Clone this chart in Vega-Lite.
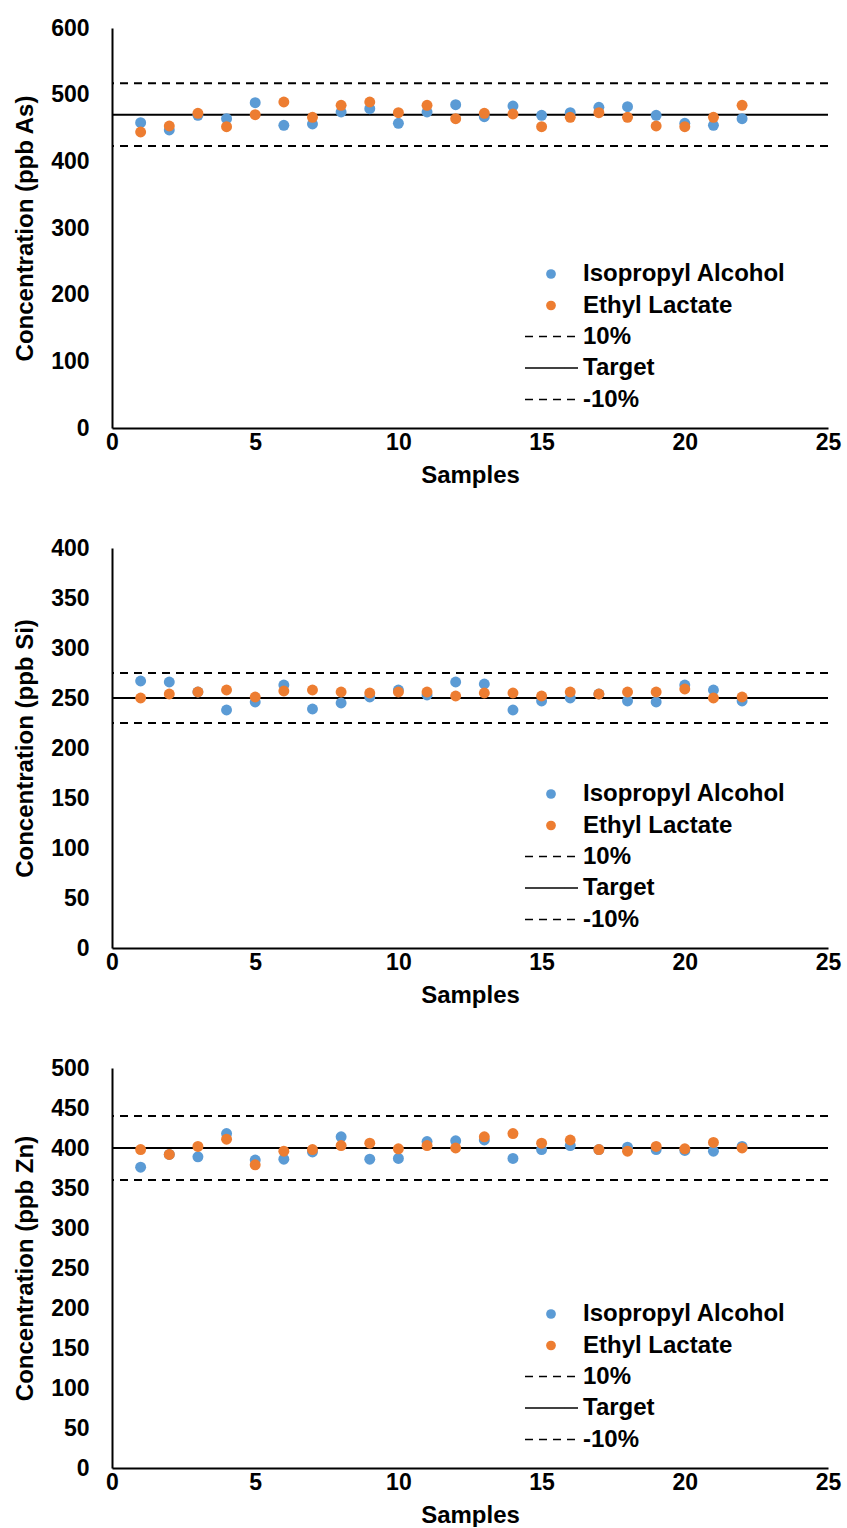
{
  "$schema": "https://vega.github.io/schema/vega-lite/v6.json",
  "background": "white",
  "padding": {"left": 13, "top": 17, "right": 5, "bottom": 0},
  "datasets": {
    "as": [
      {"sample": 1, "solvent": "Isopropyl Alcohol", "value": 458},
      {"sample": 2, "solvent": "Isopropyl Alcohol", "value": 447},
      {"sample": 3, "solvent": "Isopropyl Alcohol", "value": 469},
      {"sample": 4, "solvent": "Isopropyl Alcohol", "value": 464},
      {"sample": 5, "solvent": "Isopropyl Alcohol", "value": 488},
      {"sample": 6, "solvent": "Isopropyl Alcohol", "value": 454},
      {"sample": 7, "solvent": "Isopropyl Alcohol", "value": 456},
      {"sample": 8, "solvent": "Isopropyl Alcohol", "value": 474},
      {"sample": 9, "solvent": "Isopropyl Alcohol", "value": 479},
      {"sample": 10, "solvent": "Isopropyl Alcohol", "value": 457},
      {"sample": 11, "solvent": "Isopropyl Alcohol", "value": 474},
      {"sample": 12, "solvent": "Isopropyl Alcohol", "value": 485},
      {"sample": 13, "solvent": "Isopropyl Alcohol", "value": 467},
      {"sample": 14, "solvent": "Isopropyl Alcohol", "value": 483},
      {"sample": 15, "solvent": "Isopropyl Alcohol", "value": 469},
      {"sample": 16, "solvent": "Isopropyl Alcohol", "value": 473},
      {"sample": 17, "solvent": "Isopropyl Alcohol", "value": 481},
      {"sample": 18, "solvent": "Isopropyl Alcohol", "value": 482},
      {"sample": 19, "solvent": "Isopropyl Alcohol", "value": 469},
      {"sample": 20, "solvent": "Isopropyl Alcohol", "value": 457},
      {"sample": 21, "solvent": "Isopropyl Alcohol", "value": 454},
      {"sample": 22, "solvent": "Isopropyl Alcohol", "value": 464},
      {"sample": 1, "solvent": "Ethyl Lactate", "value": 444},
      {"sample": 2, "solvent": "Ethyl Lactate", "value": 453},
      {"sample": 3, "solvent": "Ethyl Lactate", "value": 472},
      {"sample": 4, "solvent": "Ethyl Lactate", "value": 452},
      {"sample": 5, "solvent": "Ethyl Lactate", "value": 470},
      {"sample": 6, "solvent": "Ethyl Lactate", "value": 489},
      {"sample": 7, "solvent": "Ethyl Lactate", "value": 466},
      {"sample": 8, "solvent": "Ethyl Lactate", "value": 484},
      {"sample": 9, "solvent": "Ethyl Lactate", "value": 489},
      {"sample": 10, "solvent": "Ethyl Lactate", "value": 473},
      {"sample": 11, "solvent": "Ethyl Lactate", "value": 484},
      {"sample": 12, "solvent": "Ethyl Lactate", "value": 464},
      {"sample": 13, "solvent": "Ethyl Lactate", "value": 472},
      {"sample": 14, "solvent": "Ethyl Lactate", "value": 471},
      {"sample": 15, "solvent": "Ethyl Lactate", "value": 452},
      {"sample": 16, "solvent": "Ethyl Lactate", "value": 466},
      {"sample": 17, "solvent": "Ethyl Lactate", "value": 473},
      {"sample": 18, "solvent": "Ethyl Lactate", "value": 466},
      {"sample": 19, "solvent": "Ethyl Lactate", "value": 453},
      {"sample": 20, "solvent": "Ethyl Lactate", "value": 452},
      {"sample": 21, "solvent": "Ethyl Lactate", "value": 466},
      {"sample": 22, "solvent": "Ethyl Lactate", "value": 484}
    ],
    "si": [
      {"sample": 1, "solvent": "Isopropyl Alcohol", "value": 267},
      {"sample": 2, "solvent": "Isopropyl Alcohol", "value": 266},
      {"sample": 3, "solvent": "Isopropyl Alcohol", "value": 256},
      {"sample": 4, "solvent": "Isopropyl Alcohol", "value": 238},
      {"sample": 5, "solvent": "Isopropyl Alcohol", "value": 246},
      {"sample": 6, "solvent": "Isopropyl Alcohol", "value": 263},
      {"sample": 7, "solvent": "Isopropyl Alcohol", "value": 239},
      {"sample": 8, "solvent": "Isopropyl Alcohol", "value": 245},
      {"sample": 9, "solvent": "Isopropyl Alcohol", "value": 251},
      {"sample": 10, "solvent": "Isopropyl Alcohol", "value": 258},
      {"sample": 11, "solvent": "Isopropyl Alcohol", "value": 253},
      {"sample": 12, "solvent": "Isopropyl Alcohol", "value": 266},
      {"sample": 13, "solvent": "Isopropyl Alcohol", "value": 264},
      {"sample": 14, "solvent": "Isopropyl Alcohol", "value": 238},
      {"sample": 15, "solvent": "Isopropyl Alcohol", "value": 247},
      {"sample": 16, "solvent": "Isopropyl Alcohol", "value": 250},
      {"sample": 17, "solvent": "Isopropyl Alcohol", "value": 254},
      {"sample": 18, "solvent": "Isopropyl Alcohol", "value": 247},
      {"sample": 19, "solvent": "Isopropyl Alcohol", "value": 246},
      {"sample": 20, "solvent": "Isopropyl Alcohol", "value": 263},
      {"sample": 21, "solvent": "Isopropyl Alcohol", "value": 258},
      {"sample": 22, "solvent": "Isopropyl Alcohol", "value": 247},
      {"sample": 1, "solvent": "Ethyl Lactate", "value": 250},
      {"sample": 2, "solvent": "Ethyl Lactate", "value": 254},
      {"sample": 3, "solvent": "Ethyl Lactate", "value": 256},
      {"sample": 4, "solvent": "Ethyl Lactate", "value": 258},
      {"sample": 5, "solvent": "Ethyl Lactate", "value": 251},
      {"sample": 6, "solvent": "Ethyl Lactate", "value": 257},
      {"sample": 7, "solvent": "Ethyl Lactate", "value": 258},
      {"sample": 8, "solvent": "Ethyl Lactate", "value": 256},
      {"sample": 9, "solvent": "Ethyl Lactate", "value": 255},
      {"sample": 10, "solvent": "Ethyl Lactate", "value": 256},
      {"sample": 11, "solvent": "Ethyl Lactate", "value": 256},
      {"sample": 12, "solvent": "Ethyl Lactate", "value": 252},
      {"sample": 13, "solvent": "Ethyl Lactate", "value": 255},
      {"sample": 14, "solvent": "Ethyl Lactate", "value": 255},
      {"sample": 15, "solvent": "Ethyl Lactate", "value": 252},
      {"sample": 16, "solvent": "Ethyl Lactate", "value": 256},
      {"sample": 17, "solvent": "Ethyl Lactate", "value": 254},
      {"sample": 18, "solvent": "Ethyl Lactate", "value": 256},
      {"sample": 19, "solvent": "Ethyl Lactate", "value": 256},
      {"sample": 20, "solvent": "Ethyl Lactate", "value": 259},
      {"sample": 21, "solvent": "Ethyl Lactate", "value": 250},
      {"sample": 22, "solvent": "Ethyl Lactate", "value": 251}
    ],
    "zn": [
      {"sample": 1, "solvent": "Isopropyl Alcohol", "value": 376},
      {"sample": 2, "solvent": "Isopropyl Alcohol", "value": 392},
      {"sample": 3, "solvent": "Isopropyl Alcohol", "value": 389},
      {"sample": 4, "solvent": "Isopropyl Alcohol", "value": 418},
      {"sample": 5, "solvent": "Isopropyl Alcohol", "value": 385},
      {"sample": 6, "solvent": "Isopropyl Alcohol", "value": 386},
      {"sample": 7, "solvent": "Isopropyl Alcohol", "value": 395},
      {"sample": 8, "solvent": "Isopropyl Alcohol", "value": 414},
      {"sample": 9, "solvent": "Isopropyl Alcohol", "value": 386},
      {"sample": 10, "solvent": "Isopropyl Alcohol", "value": 387},
      {"sample": 11, "solvent": "Isopropyl Alcohol", "value": 408},
      {"sample": 12, "solvent": "Isopropyl Alcohol", "value": 409},
      {"sample": 13, "solvent": "Isopropyl Alcohol", "value": 410},
      {"sample": 14, "solvent": "Isopropyl Alcohol", "value": 387},
      {"sample": 15, "solvent": "Isopropyl Alcohol", "value": 398},
      {"sample": 16, "solvent": "Isopropyl Alcohol", "value": 403},
      {"sample": 17, "solvent": "Isopropyl Alcohol", "value": 398},
      {"sample": 18, "solvent": "Isopropyl Alcohol", "value": 401},
      {"sample": 19, "solvent": "Isopropyl Alcohol", "value": 398},
      {"sample": 20, "solvent": "Isopropyl Alcohol", "value": 397},
      {"sample": 21, "solvent": "Isopropyl Alcohol", "value": 396},
      {"sample": 22, "solvent": "Isopropyl Alcohol", "value": 402},
      {"sample": 1, "solvent": "Ethyl Lactate", "value": 398},
      {"sample": 2, "solvent": "Ethyl Lactate", "value": 392},
      {"sample": 3, "solvent": "Ethyl Lactate", "value": 402},
      {"sample": 4, "solvent": "Ethyl Lactate", "value": 411},
      {"sample": 5, "solvent": "Ethyl Lactate", "value": 379},
      {"sample": 6, "solvent": "Ethyl Lactate", "value": 396},
      {"sample": 7, "solvent": "Ethyl Lactate", "value": 398},
      {"sample": 8, "solvent": "Ethyl Lactate", "value": 403},
      {"sample": 9, "solvent": "Ethyl Lactate", "value": 406},
      {"sample": 10, "solvent": "Ethyl Lactate", "value": 399},
      {"sample": 11, "solvent": "Ethyl Lactate", "value": 403},
      {"sample": 12, "solvent": "Ethyl Lactate", "value": 400},
      {"sample": 13, "solvent": "Ethyl Lactate", "value": 414},
      {"sample": 14, "solvent": "Ethyl Lactate", "value": 418},
      {"sample": 15, "solvent": "Ethyl Lactate", "value": 406},
      {"sample": 16, "solvent": "Ethyl Lactate", "value": 410},
      {"sample": 17, "solvent": "Ethyl Lactate", "value": 398},
      {"sample": 18, "solvent": "Ethyl Lactate", "value": 396},
      {"sample": 19, "solvent": "Ethyl Lactate", "value": 402},
      {"sample": 20, "solvent": "Ethyl Lactate", "value": 399},
      {"sample": 21, "solvent": "Ethyl Lactate", "value": 407},
      {"sample": 22, "solvent": "Ethyl Lactate", "value": 400}
    ],
    "as_ref": [
      {"ref": "10%", "value": 517},
      {"ref": "Target", "value": 470},
      {"ref": "-10%", "value": 423}
    ],
    "si_ref": [
      {"ref": "10%", "value": 275},
      {"ref": "Target", "value": 250},
      {"ref": "-10%", "value": 225}
    ],
    "zn_ref": [
      {"ref": "10%", "value": 440},
      {"ref": "Target", "value": 400},
      {"ref": "-10%", "value": 360}
    ]
  },
  "spacing": 120,
  "bounds": "flush",
  "resolve": {
    "scale": {"color": "independent", "y": "independent", "strokeDash": "independent"},
    "legend": {"color": "independent", "strokeDash": "independent"}
  },
  "vconcat": [
    {
      "width": 716,
      "height": 400,
      "layer": [
        {
          "data": {"name": "as_ref"},
          "mark": {"type": "rule", "color": "black", "strokeWidth": 2},
          "encoding": {
            "y": {"field": "value", "type": "quantitative", "scale": {"domain": [0, 600], "nice": false}, "axis": {"title": "Concentration (ppb As)", "values": [0, 100, 200, 300, 400, 500, 600]}},
            "strokeDash": {"field": "ref", "type": "nominal", "scale": {"domain": ["10%", "Target", "-10%"], "range": [[8, 6], [1, 0], [8, 6]]},
              "legend": {"orient": "none", "legendX": 425.5, "legendY": 294.5, "title": null, "symbolType": "M-2,0L2,0", "symbolSize": 702, "symbolStrokeWidth": 1.5, "symbolStrokeColor": "black", "labelOffset": 17.5, "rowPadding": 5.5}}
          }
        },
        {
          "data": {"name": "as"},
          "mark": {"type": "point", "filled": true, "opacity": 1, "size": 120},
          "encoding": {
            "x": {"field": "sample", "type": "quantitative", "scale": {"domain": [0, 25], "nice": false}, "axis": {"title": "Samples", "values": [0, 5, 10, 15, 20, 25]}},
            "y": {"field": "value", "type": "quantitative", "scale": {"domain": [0, 600], "nice": false}, "axis": {"title": "Concentration (ppb As)", "values": [0, 100, 200, 300, 400, 500, 600]}},
            "color": {
              "field": "solvent", "type": "nominal",
              "scale": {"domain": ["Isopropyl Alcohol", "Ethyl Lactate"], "range": ["#5B9BD5", "#ED7D31"]},
              "legend": {"orient": "none", "legendX": 427, "legendY": 234, "title": null, "symbolType": "circle", "symbolSize": 95, "symbolStrokeWidth": 0, "labelOffset": 20}
            }
          }
        }
      ]
    },
    {
      "width": 716,
      "height": 400,
      "layer": [
        {
          "data": {"name": "si_ref"},
          "mark": {"type": "rule", "color": "black", "strokeWidth": 2},
          "encoding": {
            "y": {"field": "value", "type": "quantitative", "scale": {"domain": [0, 400], "nice": false}, "axis": {"title": "Concentration (ppb Si)", "values": [0, 50, 100, 150, 200, 250, 300, 350, 400]}},
            "strokeDash": {"field": "ref", "type": "nominal", "scale": {"domain": ["10%", "Target", "-10%"], "range": [[8, 6], [1, 0], [8, 6]]},
              "legend": {"orient": "none", "legendX": 425.5, "legendY": 294.5, "title": null, "symbolType": "M-2,0L2,0", "symbolSize": 702, "symbolStrokeWidth": 1.5, "symbolStrokeColor": "black", "labelOffset": 17.5, "rowPadding": 5.5}}
          }
        },
        {
          "data": {"name": "si"},
          "mark": {"type": "point", "filled": true, "opacity": 1, "size": 120},
          "encoding": {
            "x": {"field": "sample", "type": "quantitative", "scale": {"domain": [0, 25], "nice": false}, "axis": {"title": "Samples", "values": [0, 5, 10, 15, 20, 25]}},
            "y": {"field": "value", "type": "quantitative", "scale": {"domain": [0, 400], "nice": false}, "axis": {"title": "Concentration (ppb Si)", "values": [0, 50, 100, 150, 200, 250, 300, 350, 400]}},
            "color": {
              "field": "solvent", "type": "nominal",
              "scale": {"domain": ["Isopropyl Alcohol", "Ethyl Lactate"], "range": ["#5B9BD5", "#ED7D31"]},
              "legend": {"orient": "none", "legendX": 427, "legendY": 234, "title": null, "symbolType": "circle", "symbolSize": 95, "symbolStrokeWidth": 0, "labelOffset": 20}
            }
          }
        }
      ]
    },
    {
      "width": 716,
      "height": 400,
      "layer": [
        {
          "data": {"name": "zn_ref"},
          "mark": {"type": "rule", "color": "black", "strokeWidth": 2},
          "encoding": {
            "y": {"field": "value", "type": "quantitative", "scale": {"domain": [0, 500], "nice": false}, "axis": {"title": "Concentration (ppb Zn)", "values": [0, 50, 100, 150, 200, 250, 300, 350, 400, 450, 500]}},
            "strokeDash": {"field": "ref", "type": "nominal", "scale": {"domain": ["10%", "Target", "-10%"], "range": [[8, 6], [1, 0], [8, 6]]},
              "legend": {"orient": "none", "legendX": 425.5, "legendY": 294.5, "title": null, "symbolType": "M-2,0L2,0", "symbolSize": 702, "symbolStrokeWidth": 1.5, "symbolStrokeColor": "black", "labelOffset": 17.5, "rowPadding": 5.5}}
          }
        },
        {
          "data": {"name": "zn"},
          "mark": {"type": "point", "filled": true, "opacity": 1, "size": 120},
          "encoding": {
            "x": {"field": "sample", "type": "quantitative", "scale": {"domain": [0, 25], "nice": false}, "axis": {"title": "Samples", "values": [0, 5, 10, 15, 20, 25]}},
            "y": {"field": "value", "type": "quantitative", "scale": {"domain": [0, 500], "nice": false}, "axis": {"title": "Concentration (ppb Zn)", "values": [0, 50, 100, 150, 200, 250, 300, 350, 400, 450, 500]}},
            "color": {
              "field": "solvent", "type": "nominal",
              "scale": {"domain": ["Isopropyl Alcohol", "Ethyl Lactate"], "range": ["#5B9BD5", "#ED7D31"]},
              "legend": {"orient": "none", "legendX": 427, "legendY": 234, "title": null, "symbolType": "circle", "symbolSize": 95, "symbolStrokeWidth": 0, "labelOffset": 20}
            }
          }
        }
      ]
    }
  ],
  "config": {
    "view": {"stroke": null},
    "font": "Liberation Sans",
    "axis": {
      "grid": false, "ticks": false, "tickSize": 0, "labelFlush": false,
      "domainColor": "black", "domainWidth": 2,
      "labelFont": "Liberation Sans", "labelFontWeight": "bold", "labelFontSize": 23, "labelColor": "black",
      "titleFont": "Liberation Sans", "titleFontWeight": "bold", "titleFontSize": 24, "titleColor": "black"
    },
    "axisX": {"labelPadding": 3, "titlePadding": 9},
    "axisY": {"labelPadding": 23, "titlePadding": 13},
    "legend": {
      "padding": 0, "rowPadding": 7.5,
      "labelFont": "Liberation Sans", "labelFontSize": 24, "labelFontWeight": "bold", "labelColor": "black", "labelLimit": 400
    }
  }
}
